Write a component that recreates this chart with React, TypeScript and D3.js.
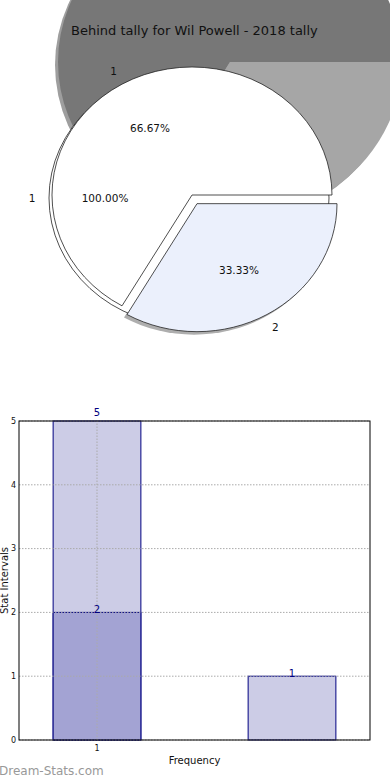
import React from "react";
import * as d3 from "d3";

// ---------- data ----------
const title = "Behind tally for Wil Powell - 2018 tally";
const pieCategories = ["1", "2"];
const pieValues = [2, 1];
const pieTotalCategory = ["1"];
const pieTotalValues = [3];

const barPositions = [1, 2];
const barTotals = [5, 1];
const barBehind = [2, 0];
const yTicks = [0, 1, 2, 3, 4, 5];
const xTicks = [1];
const xLabel = "Frequency";
const yLabel = "Stat Intervals";
const watermark = "Dream-Stats.com";

const FONT = "DejaVu Sans, Verdana, sans-serif";

type Ell = { cx: number; cy: number; rx: number; ry: number };

const unitArc = d3.arc<d3.PieArcDatum<number>>().innerRadius(0).outerRadius(1);
const pieMain = d3.pie<number>().sort(null).startAngle((7 * Math.PI) / 6).endAngle((7 * Math.PI) / 6 + 2 * Math.PI);
const pieFull = d3.pie<number>().sort(null).startAngle(Math.PI / 2).endAngle(Math.PI / 2 + 2 * Math.PI);

function pointAt(d: d3.PieArcDatum<number>, e: Ell, r: number, off = [0, 0]) {
  const c = d3.arc<d3.PieArcDatum<number>>().innerRadius(r).outerRadius(r).centroid(d);
  return [e.cx + off[0] + c[0] * e.rx, e.cy + off[1] + c[1] * e.ry];
}

export default function App() {
  // ---------- pie part ----------
  const bigPie: Ell = { cx: 230, cy: 62, rx: 172, ry: 158 };
  const mainPie: Ell = { cx: 192, cy: 195, rx: 140, ry: 128 };
  const shadowPie: Ell = { cx: 189, cy: 198, rx: 140, ry: 128 };
  const explode = 10;

  const arcsMain = pieMain(pieValues);
  const arcsFull = pieFull(pieTotalValues);
  const bigColors = ["#777777", "#a6a6a6"];
  const mainColors = ["#ffffff", "#ebf0fc"];
  const total = d3.sum(pieValues);

  const tf = (e: Ell, off = [0, 0]) => `translate(${e.cx + off[0]},${e.cy + off[1]}) scale(${e.rx},${e.ry})`;
  const explodeOff = (d: d3.PieArcDatum<number>, i: number) => {
    if (i !== 1) return [0, 0];
    const c = d3.arc<d3.PieArcDatum<number>>().innerRadius(1).outerRadius(1).centroid(d);
    const len = Math.hypot(c[0], c[1]);
    return [(c[0] / len) * explode, (c[1] / len) * explode];
  };

  // ---------- bar part ----------
  const x = d3.scaleLinear().domain([0.6, 2.4]).range([19, 370]);
  const y = d3.scaleLinear().domain([0, 5]).range([740, 421]);
  const bw = 0.45;
  const yMax = y.domain()[1];
  const labelY = (v: number) => (v >= yMax ? y(v) - 5 : y(v) + 1);

  return (
    <svg width={390} height={780} style={{ position: "absolute", left: 0, top: 0, background: "#fff" }} fontFamily={FONT}>
      {/* big gray pie shadow + pie */}
      <ellipse cx={bigPie.cx - 3} cy={bigPie.cy + 3} rx={bigPie.rx} ry={bigPie.ry} fill="#9e9e9e" />
      {arcsMain.map((d, i) => (
        <path key={"bg" + i} d={unitArc(d) as string} transform={tf(bigPie)} fill={bigColors[i]} />
      ))}
      <text x={71} y={35} fontSize={13} fill="#111">{title}</text>

      {/* blue slice shadow */}
      <path d={unitArc(arcsMain[1]) as string} transform={tf(mainPie, [explodeOff(arcsMain[1], 1)[0] - 3, explodeOff(arcsMain[1], 1)[1] + 3])} fill="#9a9a9a" opacity={0.8} />
      {/* 100% shadow pie */}
      {arcsFull.map((d, i) => (
        <path key={"sh" + i} d={unitArc(d) as string} transform={tf(shadowPie)} fill="#fff" stroke="#222" strokeWidth={0.8} style={{ vectorEffect: "non-scaling-stroke" } as any} />
      ))}
      {/* main pie */}
      {arcsMain.map((d, i) => (
        <path key={"m" + i} d={unitArc(d) as string} transform={tf(mainPie, explodeOff(d, i))} fill={mainColors[i]} stroke="#222" strokeWidth={0.8} style={{ vectorEffect: "non-scaling-stroke" } as any} />
      ))}
      {/* labels */}
      {arcsFull.map((d, i) => {
        const p1 = pointAt(d, shadowPie, 0.6);
        const p2 = pointAt(d, shadowPie, 1.12);
        return (
          <g key={"fl" + i} fontSize={10.5} fill="#111" textAnchor="middle">
            <text x={p1[0]} y={p1[1]} dy="0.35em">{(100).toFixed(2)}%</text>
            <text x={p2[0]} y={p2[1]} dy="0.35em">{pieTotalCategory[i]}</text>
          </g>
        );
      })}
      {arcsMain.map((d, i) => {
        const off = explodeOff(d, i);
        const p1 = pointAt(d, mainPie, 0.6, off);
        const p2 = pointAt(d, mainPie, 1.12, off);
        return (
          <g key={"ml" + i} fontSize={10.5} fill="#111" textAnchor="middle">
            <text x={p1[0]} y={p1[1]} dy="0.35em">{((d.value / total) * 100).toFixed(2)}%</text>
            <text x={p2[0]} y={p2[1]} dy="0.35em">{pieCategories[i]}</text>
          </g>
        );
      })}

      {/* ---------- bar chart ---------- */}
      {barPositions.map((p, i) => (
        <rect key={"t" + i} x={x(p - bw / 2)} y={y(barTotals[i])} width={x(p + bw / 2) - x(p - bw / 2)} height={y(0) - y(barTotals[i])} fill="#cccce6" stroke="#000080" strokeWidth={1} />
      ))}
      {barPositions.map((p, i) =>
        barBehind[i] > 0 ? (
          <rect key={"b" + i} x={x(p - bw / 2)} y={y(barBehind[i])} width={x(p + bw / 2) - x(p - bw / 2)} height={y(0) - y(barBehind[i])} fill="#a3a3d3" stroke="#000080" strokeWidth={1} />
        ) : null
      )}
      {/* grid */}
      {yTicks.map((t) => (
        <line key={"gy" + t} x1={x(0.6)} x2={x(2.4)} y1={y(t)} y2={y(t)} stroke="#aaa" strokeWidth={1} strokeDasharray="1.5,1.5" />
      ))}
      {xTicks.map((t) => (
        <line key={"gx" + t} x1={x(t)} x2={x(t)} y1={y(0)} y2={y(5)} stroke="#aaa" strokeWidth={1} strokeDasharray="1.5,1.5" />
      ))}
      {/* frame */}
      <rect x={x(0.6)} y={y(5)} width={x(2.4) - x(0.6)} height={y(0) - y(5)} fill="none" stroke="#000" strokeWidth={1} />
      {/* tick labels */}
      {yTicks.map((t) => (
        <text key={"yl" + t} x={16} y={y(t)} dy="0.35em" fontSize={8} textAnchor="end" fill="#111">{t}</text>
      ))}
      {xTicks.map((t) => (
        <text key={"xl" + t} x={x(t)} y={751} fontSize={8} textAnchor="middle" fill="#111">{t}</text>
      ))}
      {/* value labels */}
      {barPositions.map((p, i) => (
        <text key={"vt" + i} x={x(p)} y={labelY(barTotals[i])} fontSize={10} textAnchor="middle" fill="#000080">{barTotals[i]}</text>
      ))}
      {barPositions.map((p, i) =>
        barBehind[i] > 0 ? (
          <text key={"vb" + i} x={x(p)} y={labelY(barBehind[i])} fontSize={10} textAnchor="middle" fill="#000080">{barBehind[i]}</text>
        ) : null
      )}
      {/* axis labels */}
      <text x={(x(0.6) + x(2.4)) / 2} y={764} fontSize={10} textAnchor="middle" fill="#111">{xLabel}</text>
      <text transform={`translate(8,${(y(0) + y(5)) / 2}) rotate(-90)`} fontSize={10} textAnchor="middle" fill="#111">{yLabel}</text>
      <text x={-1} y={775} fontSize={12} fill="#999">{watermark}</text>
    </svg>
  );
}
